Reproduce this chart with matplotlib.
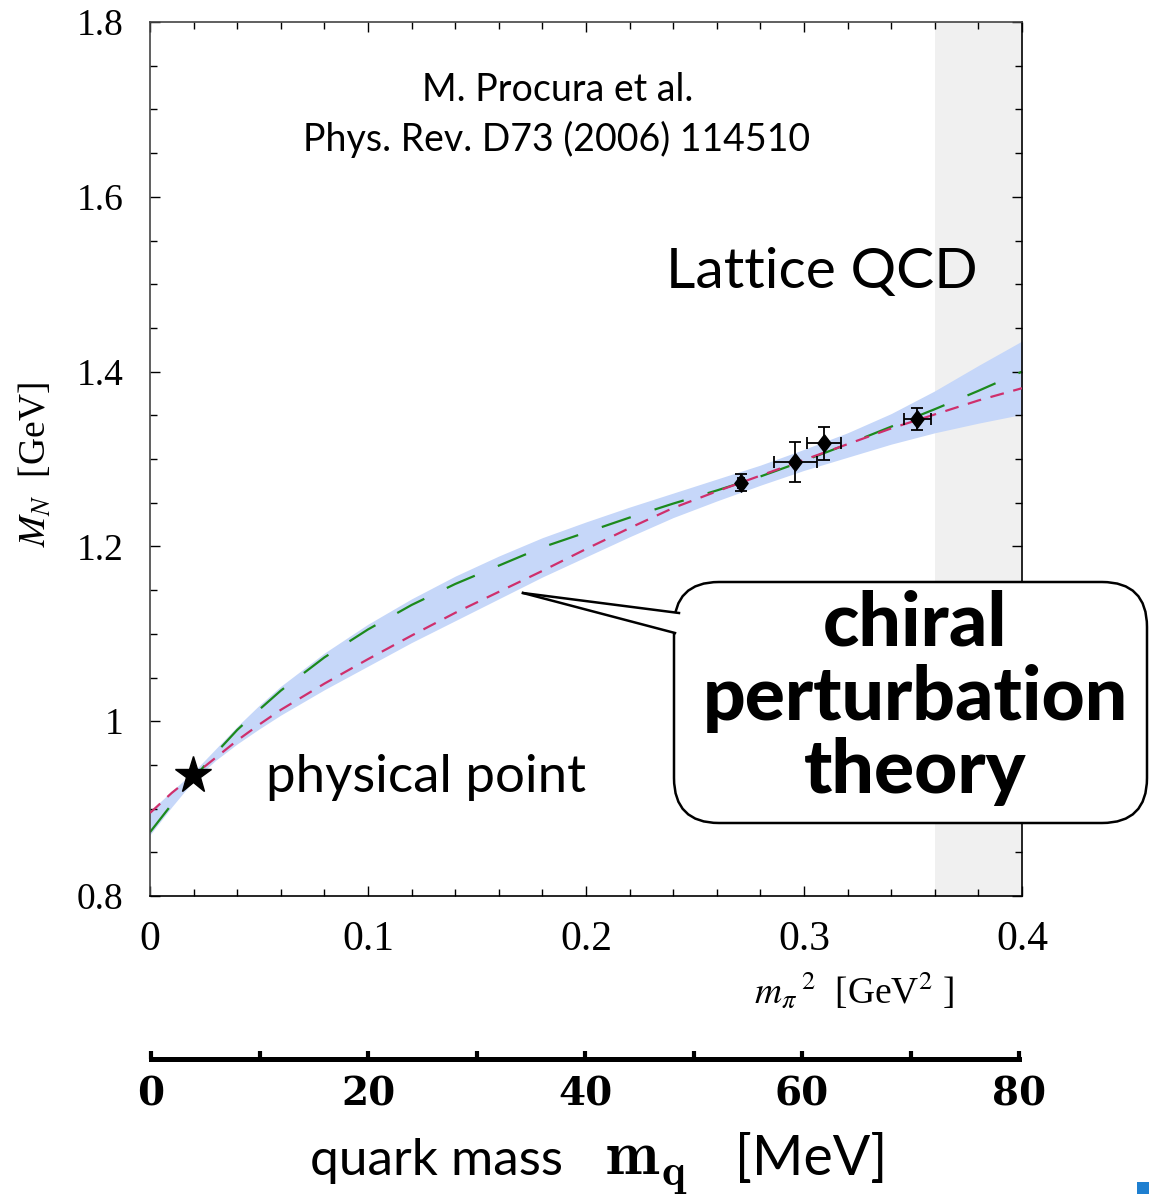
import matplotlib.pyplot as plt
from matplotlib.patches import FancyBboxPatch, Polygon, Rectangle
from matplotlib.ticker import MultipleLocator

plt.rcParams['font.family'] = ['Liberation Serif', 'DejaVu Serif']
plt.rcParams['mathtext.fontset'] = 'stix'
plt.rcParams['lines.scale_dashes'] = False

W, H = 1149, 1199
SANS = ['Lato', 'DejaVu Sans']

# nucleon mass M_N [GeV] vs m_pi^2 [GeV^2]
mpi2 = [0.0, 0.01, 0.02, 0.03, 0.04, 0.05, 0.06, 0.08, 0.10, 0.12, 0.14, 0.16,
        0.18, 0.20, 0.22, 0.24, 0.26, 0.28, 0.30, 0.32, 0.34, 0.36, 0.38, 0.40]
fit_short = [0.895, 0.918, 0.938, 0.958, 0.978, 0.996, 1.013, 1.043, 1.071, 1.098, 1.124, 1.148,
             1.172, 1.197, 1.221, 1.244, 1.263, 1.281, 1.299, 1.317, 1.335, 1.351, 1.367, 1.381]
fit_long = [0.873, 0.905, 0.935, 0.963, 0.990, 1.013, 1.035, 1.073, 1.105, 1.133, 1.157, 1.178,
            1.199, 1.216, 1.233, 1.249, 1.264, 1.280, 1.298, 1.317, 1.337, 1.357, 1.378, 1.400]
band_upper = [0.897, 0.920, 0.942, 0.968, 0.994, 1.018, 1.040, 1.078, 1.111, 1.140, 1.166, 1.189,
              1.210, 1.228, 1.245, 1.261, 1.277, 1.293, 1.311, 1.330, 1.352, 1.378, 1.407, 1.435]
band_lower = [0.870, 0.902, 0.932, 0.955, 0.974, 0.991, 1.007, 1.036, 1.063, 1.090, 1.115, 1.140,
              1.165, 1.188, 1.211, 1.233, 1.252, 1.270, 1.287, 1.302, 1.317, 1.330, 1.341, 1.351]

# lattice points
lat_x = [0.271, 0.296, 0.309, 0.352]
lat_xerr = [0.0015, 0.0099, 0.0078, 0.0062]
lat_y = [1.273, 1.297, 1.318, 1.346]
lat_yerr = [0.010, 0.023, 0.019, 0.0126]

phys_x, phys_y = 0.0195, 0.938
lattice_region = (0.36, 0.40)

mpi2_ticks = [0, 0.1, 0.2, 0.3, 0.4]
mpi2_ticklabels = ['0', '0.1', '0.2', '0.3', '0.4']
mn_ticks = [0.8, 1.0, 1.2, 1.4, 1.6, 1.8]
mn_ticklabels = ['0.8', '1', '1.2', '1.4', '1.6', '1.8']
mq_ticks = [0, 20, 40, 60, 80]
mq_minor = [10, 30, 50, 70]

fig = plt.figure(figsize=(W / 100, H / 100), dpi=100)
ax = fig.add_axes([150 / W, 1 - 896 / H, 872 / W, 874 / H])

ax.axvspan(*lattice_region, color='#f0f0f0', lw=0, zorder=0)
ax.fill_between(mpi2, band_lower, band_upper, color='#c6d7f9', lw=0, zorder=1)
ax.plot(mpi2, fit_long, color='#1c8a1c', lw=1.6, dashes=(22, 18), zorder=2)
ax.plot(mpi2, fit_short, color='#cf2f6c', lw=1.6, dashes=(10, 7), zorder=3)

ax.errorbar(lat_x, lat_y, xerr=lat_xerr, yerr=lat_yerr, fmt='none', ecolor='black',
            elinewidth=1.3, capsize=4, capthick=1.3, zorder=4)
diamond = [(0, 1), (0.76, 0), (0, -1), (-0.76, 0), (0, 1)]
ax.plot(lat_x, lat_y, ls='none', marker=diamond, ms=12.5, color='black', zorder=5)
ax.plot(phys_x, phys_y, marker='*', ms=28, color='black', zorder=6)

ax.set_xlim(0, 0.4)
ax.set_ylim(0.8, 1.8)
ax.set_xticks(mpi2_ticks)
ax.set_xticklabels(mpi2_ticklabels)
ax.set_yticks(mn_ticks)
ax.set_yticklabels(mn_ticklabels)
ax.xaxis.set_minor_locator(MultipleLocator(0.02))
ax.yaxis.set_minor_locator(MultipleLocator(0.05))
ax.tick_params(which='both', direction='in', top=True, right=True, width=1)
ax.tick_params(which='major', length=7)
ax.tick_params(which='minor', length=5)
ax.tick_params(axis='x', labelsize=30, pad=18)
ax.tick_params(axis='y', labelsize=27, pad=19)
for side in ax.spines:
    ax.spines[side].set_linewidth(1.2)
ax.spines['left'].set_color('#444444')
ax.spines['top'].set_color('#444444')

# quark mass scale below the plot
axq = fig.add_axes([151 / W, 1 - 1059 / H, 868 / W, 1e-4])
axq.patch.set_visible(False)
for side in ['top', 'left', 'right']:
    axq.spines[side].set_visible(False)
axq.spines['bottom'].set_linewidth(3.6)
axq.set_xlim(0, 80)
axq.set_yticks([])
axq.set_xticks(mq_ticks)
axq.set_xticks(mq_minor, minor=True)
axq.set_xticklabels([str(v) for v in mq_ticks], fontsize=28, fontweight='bold',
                    family='DejaVu Serif')
axq.tick_params(axis='x', which='both', direction='in', length=6, width=3, pad=12)

# annotations in pixel coordinates
ov = fig.add_axes([0, 0, 1, 1])
ov.set_xlim(0, W)
ov.set_ylim(H, 0)
ov.axis('off')

ov.text(35, 465, r'$M_N$  [GeV]', fontsize=27, rotation=90, ha='center', va='center')
ov.text(854, 990, r'$m_\pi\,{}^2$  [GeV$^2$ ]', fontsize=27, ha='center', va='center')

ov.text(558, 101, 'M. Procura et al.', family=SANS, fontsize=27, ha='center', va='baseline')
ov.text(557, 151, 'Phys. Rev. D73 (2006) 114510', family=SANS, fontsize=27, ha='center', va='baseline')
ov.text(822, 288, 'Lattice QCD', family=SANS, fontsize=41, ha='center', va='baseline')
ov.text(426, 792, 'physical point', family=SANS, fontsize=38, ha='center', va='baseline')

box = FancyBboxPatch((674, 582), 473, 241, boxstyle='round,pad=0,rounding_size=45',
                     facecolor='white', edgecolor='black', lw=1.8, zorder=10)
ov.add_patch(box)
ov.add_patch(Polygon([(523, 593), (679, 613), (690, 613), (690, 633), (675, 633)],
                     closed=True, facecolor='white', edgecolor='none', zorder=11))
ov.plot([523, 679], [593, 613], color='black', lw=1.8, zorder=12)
ov.plot([523, 675], [593, 633], color='black', lw=1.8, zorder=12)
for txt, yb in [('chiral', 645), ('perturbation', 720), ('theory', 793)]:
    ov.text(915, yb, txt, family=SANS, fontsize=54, fontweight='black',
            ha='center', va='baseline', zorder=13)

ov.text(310, 1175, 'quark mass', family=SANS, fontsize=37, ha='left', va='baseline')
ov.text(605, 1175, r'$\mathbf{m_q}$', fontsize=46, math_fontfamily='cm', ha='left', va='baseline')
ov.text(735, 1175, '[MeV]', family=SANS, fontsize=40, ha='left', va='baseline')

ov.add_patch(Rectangle((1137, 1182), 12, 12, color='#1e7fd0', lw=0))

fig.savefig('out.png', dpi=100)
